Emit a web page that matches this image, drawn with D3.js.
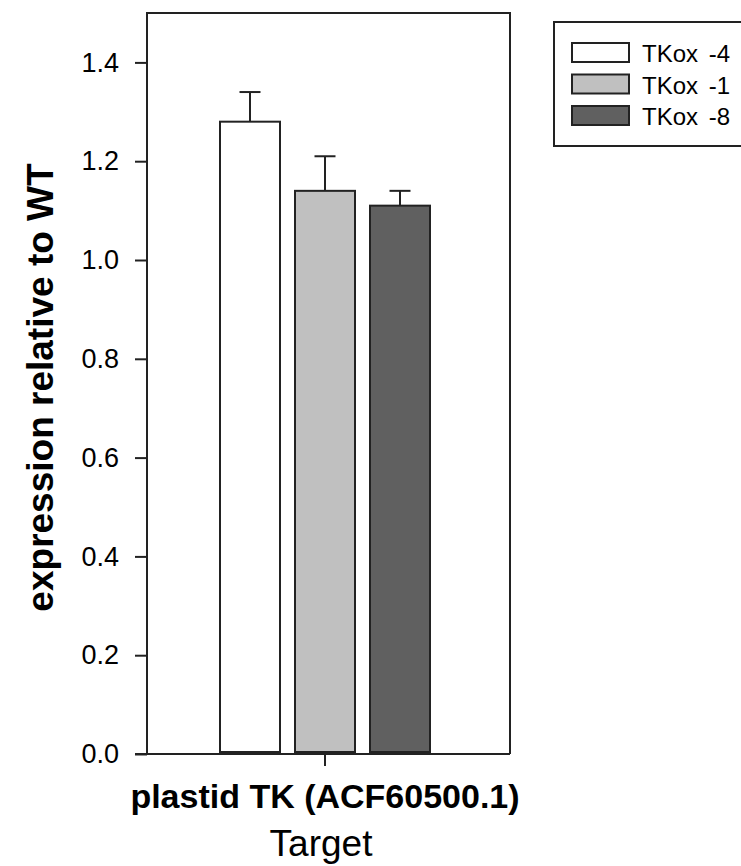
<!DOCTYPE html>
<html>
<head>
<meta charset="utf-8">
<script src="https://cdn.jsdelivr.net/npm/d3@7"></script>
<style>
  html, body { margin: 0; padding: 0; background: #fff; }
  svg { display: block; }
  text { font-family: "Liberation Sans", Arial, sans-serif; fill: #000; }
</style>
</head>
<body>
<svg id="chart" width="741" height="866"></svg>
<script>
// ---- data ----
const categories = ["plastid TK (ACF60500.1)"];
const seriesNames = ["TKox -4", "TKox -1", "TKox -8"];
const seriesColors = ["#ffffff", "#c0c0c0", "#606060"];
const values = [1.28, 1.14, 1.11];
const errors = [0.06, 0.07, 0.03];
const yTicks = [0.0, 0.2, 0.4, 0.6, 0.8, 1.0, 1.2, 1.4];
const yLabel = "expression relative to WT";
const xLabel = "Target";

// ---- layout ----
const svg = d3.select("#chart");
const frame = { left: 147, right: 510, top: 13, bottom: 754 };
const stroke = "#222222";

const y = d3.scaleLinear().domain([0, 1.5]).range([frame.bottom, frame.top]);
const x0 = d3.scaleBand().domain(categories).range([140, 510]);
const x1 = d3.scaleBand().domain(seriesNames).range([-105, 105]).paddingInner(0.2);
const color = d3.scaleOrdinal().domain(seriesNames).range(seriesColors);

const rows = seriesNames.map((s, i) => ({ s, v: values[i], e: errors[i], c: categories[0] }));

// bars
const g = svg.append("g");
g.selectAll("rect.bar").data(rows).join("rect")
  .attr("class", "bar")
  .attr("x", d => x0(d.c) + x0.bandwidth() / 2 + x1(d.s))
  .attr("width", x1.bandwidth())
  .attr("y", d => y(d.v))
  .attr("height", d => y(0) - 2 - y(d.v))
  .attr("fill", d => color(d.s))
  .attr("stroke", stroke)
  .attr("stroke-width", 2);

// error bars (upper only)
const cx = d => x0(d.c) + x0.bandwidth() / 2 + x1(d.s) + x1.bandwidth() / 2;
g.selectAll("line.err").data(rows).join("line")
  .attr("x1", cx).attr("x2", cx)
  .attr("y1", d => y(d.v)).attr("y2", d => y(d.v + d.e))
  .attr("stroke", stroke).attr("stroke-width", 2);
g.selectAll("line.cap").data(rows).join("line")
  .attr("x1", d => cx(d) - 10.5).attr("x2", d => cx(d) + 10.5)
  .attr("y1", d => y(d.v + d.e)).attr("y2", d => y(d.v + d.e))
  .attr("stroke", stroke).attr("stroke-width", 2);

// frame (top, right, left)
svg.append("path")
  .attr("d", `M${frame.left},${frame.bottom}V${frame.top}H${frame.right}V${frame.bottom}`)
  .attr("fill", "none").attr("stroke", stroke).attr("stroke-width", 2);

// y axis
const yAxis = d3.axisLeft(y).tickValues(yTicks).tickFormat(d3.format(".1f"))
  .tickSize(12).tickPadding(16);
const ya = svg.append("g").attr("transform", `translate(${frame.left},0)`).call(yAxis);
ya.select(".domain").remove();
ya.selectAll(".tick line").attr("stroke", stroke).attr("stroke-width", 2);
ya.selectAll(".tick text").attr("font-size", 27).attr("font-family", "Liberation Sans, Arial, sans-serif").attr("fill", "#000");

// x axis
const xAxis = d3.axisBottom(x0).tickSize(12).tickPadding(16);
const xa = svg.append("g").attr("transform", `translate(0,${frame.bottom})`).call(xAxis);
xa.select(".domain").attr("d", `M${frame.left - 12},0H${frame.right}`).attr("stroke", stroke).attr("stroke-width", 2);
xa.selectAll(".tick line").attr("stroke", stroke).attr("stroke-width", 2);
xa.selectAll(".tick text")
  .attr("font-size", 34).attr("font-weight", "bold")
  .attr("font-family", "Liberation Sans, Arial, sans-serif").attr("fill", "#000")
  .attr("dy", 0).attr("y", 54);

// x label
svg.append("text")
  .attr("x", x0(categories[0]) + x0.bandwidth() / 2 - 4)
  .attr("y", 856)
  .attr("text-anchor", "middle")
  .attr("font-size", 37)
  .text(xLabel);

// y label
svg.append("text")
  .attr("transform", `translate(53,${(frame.top + frame.bottom) / 2 + 4}) rotate(-90)`)
  .attr("text-anchor", "middle")
  .attr("font-size", 37)
  .attr("font-weight", "bold")
  .text(yLabel);

// legend
const lg = svg.append("g");
lg.append("rect")
  .attr("x", 554).attr("y", 22).attr("width", 200).attr("height", 124)
  .attr("fill", "#fff").attr("stroke", stroke).attr("stroke-width", 2);
const li = lg.selectAll("g.item").data(seriesNames).join("g")
  .attr("transform", (d, i) => `translate(572,${43 + i * 31.5})`);
li.append("rect")
  .attr("width", 57).attr("height", 19)
  .attr("fill", d => color(d))
  .attr("stroke", stroke).attr("stroke-width", 2);
li.append("text")
  .attr("x", 70).attr("y", 19)
  .attr("font-size", 24)
  .attr("word-spacing", 4)
  .text(d => d);
</script>
</body>
</html>
